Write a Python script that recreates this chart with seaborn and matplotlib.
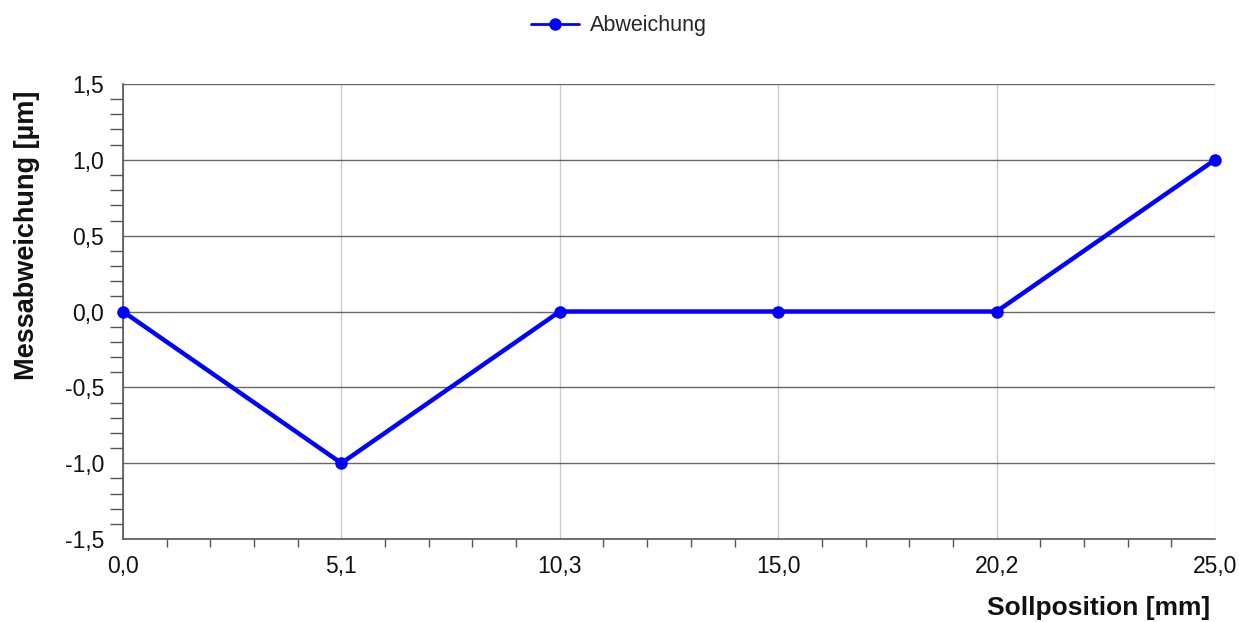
import matplotlib
matplotlib.use("Agg")
import matplotlib.pyplot as plt
import seaborn as sns
import pandas as pd
import numpy as np
from matplotlib.ticker import MultipleLocator

positions = ["0,0", "5,1", "10,3", "15,0", "20,2", "25,0"]
abweichung = [0.0, -1.0, 0.0, 0.0, 0.0, 1.0]
y_ticks = [-1.5, -1.0, -0.5, 0.0, 0.5, 1.0, 1.5]

sns.set_theme(style="white")
plt.rcParams['font.family'] = ['Liberation Sans', 'DejaVu Sans']

df = pd.DataFrame({"idx": np.arange(len(positions)), "val": abweichung})

fig = plt.figure(figsize=(12.39, 6.22), dpi=100)
ax = fig.add_axes([123/1239, 1 - 539/622, (1215-123)/1239, (539-84)/622])

sns.lineplot(data=df, x="idx", y="val", ax=ax, color="#0000FF", linewidth=3.2,
             marker="o", markersize=9, markeredgewidth=0, label="Abweichung",
             zorder=5, clip_on=False)

ax.set_xlim(0, len(positions) - 1)
ax.set_ylim(-1.5, 1.5)

ax.set_xticks(np.arange(len(positions)))
ax.set_xticklabels(positions)
ax.set_yticks(y_ticks)
ax.set_yticklabels([f"{v:.1f}".replace(".", ",") for v in y_ticks])
ax.xaxis.set_minor_locator(MultipleLocator(0.2))
ax.yaxis.set_minor_locator(MultipleLocator(0.1))

ax.tick_params(axis="x", which="major", length=4.5, color="#c8c8c8", width=1,
               labelsize=16.5, pad=7, labelcolor="#111111")
ax.tick_params(axis="x", which="minor", length=6, color="#555555", width=1, bottom=True)
ax.tick_params(axis="y", which="major", length=10, color="#555555", width=1,
               labelsize=16.5, pad=3.5, labelcolor="#111111")
ax.tick_params(axis="y", which="minor", length=9.5, color="#555555", width=1, left=True)

ax.grid(axis="y", which="major", color="#666666", linewidth=1)
ax.grid(axis="x", which="major", color="#cccccc", linewidth=1)

for s in ["top", "right"]:
    ax.spines[s].set_visible(False)
for s in ["left", "bottom"]:
    ax.spines[s].set_color("#555555")
    ax.spines[s].set_linewidth(1.2)

ax.set_xlabel("")
ax.set_ylabel("")
fig.text(1210/1239, 1 - 608/622, "Sollposition [mm]", ha="right", va="center",
         fontsize=19, fontweight="bold", color="#111111")
fig.text(27/1239, 1 - 235/622, "Messabweichung [µm]", ha="center", va="center",
         rotation=90, fontsize=19.5, fontweight="bold", color="#111111")

leg = ax.legend(loc="center", bbox_to_anchor=(619/1239, 1 - 26/622),
                bbox_transform=fig.transFigure, frameon=False, fontsize=15.5,
                handlelength=2.2, handletextpad=0.5)
for h in leg.get_lines():
    h.set_linewidth(2)

fig.savefig("out.png", dpi=100)
